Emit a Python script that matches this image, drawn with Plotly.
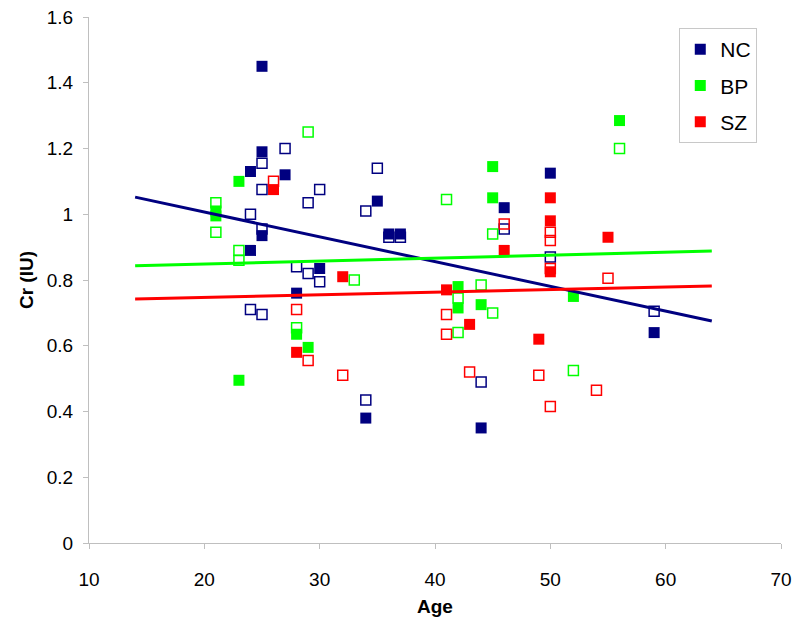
import plotly.graph_objects as go

# NC
nc_filled_age = [25, 25, 24, 27, 35, 25, 36, 37, 24, 30, 28, 34, 50, 46, 44, 59]
nc_filled_cr = [1.45, 1.19, 1.13, 1.12, 1.04, 0.935, 0.94, 0.94, 0.89, 0.835, 0.76, 0.38, 1.125, 1.02, 0.35, 0.64]
nc_open_age = [27, 25, 35, 25, 30, 29, 34, 24, 25, 36, 37, 28, 29, 30, 24, 25, 34, 46, 50, 44, 59]
nc_open_cr = [1.20, 1.155, 1.14, 1.075, 1.075, 1.035, 1.01, 1.00, 0.955, 0.93, 0.93, 0.84, 0.82, 0.795, 0.71, 0.695, 0.435, 0.955, 0.87, 0.49, 0.705]

# BP
bp_filled_age = [23, 21, 21, 28, 29, 23, 56, 45, 45, 52, 42, 42, 44]
bp_filled_cr = [1.10, 1.01, 0.995, 0.635, 0.595, 0.495, 1.285, 1.145, 1.05, 0.75, 0.78, 0.715, 0.725]
bp_open_age = [29, 21, 21, 23, 23, 28, 33, 56, 41, 45, 42, 44, 45, 42, 52]
bp_open_cr = [1.25, 1.035, 0.945, 0.89, 0.86, 0.655, 0.80, 1.20, 1.045, 0.94, 0.745, 0.785, 0.70, 0.64, 0.525]

# SZ
sz_filled_age = [26, 32, 28, 50, 50, 46, 55, 50, 41, 43, 49]
sz_filled_cr = [1.075, 0.81, 0.58, 1.05, 0.98, 0.89, 0.93, 0.825, 0.77, 0.665, 0.62]
sz_open_age = [26, 28, 29, 32, 46, 50, 50, 50, 55, 41, 41, 43, 49, 54, 50]
sz_open_cr = [1.10, 0.71, 0.555, 0.51, 0.97, 0.945, 0.92, 0.835, 0.805, 0.695, 0.635, 0.52, 0.51, 0.465, 0.415]

# Trend lines (endpoints)
trend_age = [14, 64]
nc_trend = [1.052, 0.675]
bp_trend = [0.843, 0.888]
sz_trend = [0.742, 0.782]

NAVY = "#000080"
GREEN = "#00FF00"
RED = "#FF0000"

fig = go.Figure()

groups = [
    ("NC", NAVY, nc_filled_age, nc_filled_cr, nc_open_age, nc_open_cr),
    ("BP", GREEN, bp_filled_age, bp_filled_cr, bp_open_age, bp_open_cr),
    ("SZ", RED, sz_filled_age, sz_filled_cr, sz_open_age, sz_open_cr),
]

for name, col, fa, fc, oa, oc in groups:
    fig.add_trace(go.Scatter(
        x=oa, y=oc, mode="markers", showlegend=False, legendgroup=name,
        marker=dict(symbol="square-open", size=10, color=col, line=dict(width=1.5, color=col)),
    ))
    fig.add_trace(go.Scatter(
        x=fa, y=fc, mode="markers", name=name, legendgroup=name,
        marker=dict(symbol="square", size=11, color=col, line=dict(width=0)),
    ))

for name, col, ty in [("NC", NAVY, nc_trend), ("BP", GREEN, bp_trend), ("SZ", RED, sz_trend)]:
    fig.add_trace(go.Scatter(
        x=trend_age, y=ty, mode="lines", showlegend=False, legendgroup=name,
        line=dict(color=col, width=3),
    ))

axis_common = dict(
    showgrid=False, zeroline=False, showline=True, linecolor="#BFBFBF", linewidth=1,
    ticks="outside", ticklen=5, tickcolor="#BFBFBF", automargin=False,
    tickfont=dict(family="Liberation Sans, Arial", size=19, color="black"),
)

fig.update_layout(
    width=800, height=627,
    paper_bgcolor="white", plot_bgcolor="white",
    margin=dict(l=89, r=19, t=17, b=84),
    font=dict(family="Liberation Sans, Arial", color="black"),
    xaxis=dict(range=[10, 70], dtick=10, ticklabelstandoff=14, **axis_common,
               title=dict(text="<b>Age</b>", font=dict(size=19), standoff=10)),
    yaxis=dict(range=[0, 1.6], dtick=0.2, ticklabelstandoff=6, **axis_common,
               title=dict(text="<b>Cr (IU)</b>", font=dict(size=19), standoff=8)),
    legend=dict(
        x=0.853, y=0.979, xanchor="left", yanchor="top",
        bordercolor="#C8C8C8", borderwidth=1, bgcolor="white",
        font=dict(size=21), traceorder="grouped", tracegroupgap=6,
        itemwidth=30,
    ),
)

fig.write_html(
    "out.html",
    config={"displayModeBar": False},
    post_script="document.body.style.margin='0';document.body.style.overflow='hidden';",
)
